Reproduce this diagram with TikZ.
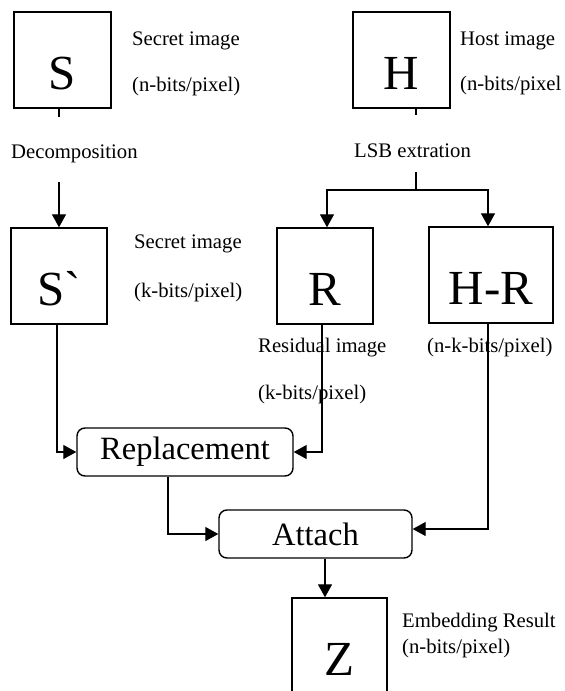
\documentclass[tikz,border=0pt]{standalone}
\usepackage{fontspec}
\setmainfont{Liberation Serif}
\newfontfamily\boxfont{Liberation Serif}[Ligatures=TeXOff]
\usetikzlibrary{arrows.meta}

\begin{document}
\begin{tikzpicture}[x=1pt,y=-1pt,>={Triangle[length=13pt,width=14pt]},
    img/.style={draw,line width=1.4pt,minimum height=96pt,inner sep=0pt,
      font=\boxfont\fontsize{49}{49}\selectfont,text height=59pt,text depth=0pt},
    proc/.style={draw,line width=1.4pt,rounded corners=8pt,minimum height=48pt,
      inner sep=0pt,font=\fontsize{32.5}{32.5}\selectfont},
    note/.style={anchor=base west,inner sep=0pt,font=\fontsize{20.7}{20.7}\selectfont},
    conn/.style={line width=1.3pt}]
  \useasboundingbox (0,0) rectangle (565,691);

  % image boxes
  \node[img,minimum width=97pt] (S) at (62.5,60) {S};
  \node[img,minimum width=97pt] (H) at (401.5,60) {H};
  \node[img,minimum width=96pt] (Sp) at (59,276) {S`};
  \node[img,minimum width=96pt] (R) at (325,276) {R};
  \node[img,minimum width=124pt] (HR) at (491,275) {H-R};
  \node[img,minimum width=95pt] (Z) at (339.5,646) {Z};

  % processing steps
  \node[proc,minimum width=216pt] (Rep) at (185,452) {Replacement};
  \node[proc,minimum width=193pt] (Att) at (315.5,534) {Attach};

  % texts
  \node[note] (sname) at (132,45.5) {Secret image};
  \node[note] (sbits) at (132,91.5) {(n-bits/pixel)};
  \node[note] (dec) at (11,158) {Decomposition};
  \node[note] (hname) at (460,45) {Host image};
  \node[note] (hbits) at (460,90) {(n-bits/pixel};
  \node[note] (lsb) at (354,157) {LSB extration};
  \node[note] (spname) at (134,248) {Secret image};
  \node[note] (spbits) at (134,297) {(k-bits/pixel)};
  \node[note] (rname) at (258,352) {Residual image};
  \node[note] (hrbits) at (427,352) {(n-k-bits/pixel)};
  \node[note] (rbits) at (258,399) {(k-bits/pixel)};
  \node[note] (zname) at (402,627) {Embedding Result};
  \node[note] (zbits) at (402,653) {(n-bits/pixel)};

  \coordinate (decout) at (59,117);
  \coordinate (decin) at (59,182);
  \coordinate (lsbin) at (416,115);
  \coordinate (lsbout) at (416,172);
  \coordinate (split) at (416,190);

  % connectors
  \draw[conn] (S.south -| decout) -- (decout);
  \draw[conn,->] (decin) -- (Sp.north);
  \draw[conn] (H.south -| lsbin) -- (lsbin);
  \draw[conn] (lsbout) -- (split);
  \draw[conn,->] (split) -| ([xshift=2pt]R.north);
  \draw[conn,->] (split) -| ([xshift=-3pt]HR.north);
  \draw[conn,->] ([xshift=-2pt]Sp.south) |- (Rep.west);
  \draw[conn,->] ([xshift=-3pt]R.south) |- (Rep.east);
  \draw[conn,->] ([xshift=-17pt]Rep.south) |- (Att.west);
  \draw[conn,->] ([xshift=-3pt]HR.south) |- ([yshift=5pt]Att.east);
  \draw[conn,->] ([xshift=9.5pt]Att.south) -- ([xshift=9.5pt]Att.south |- Z.north);
\end{tikzpicture}
\end{document}
